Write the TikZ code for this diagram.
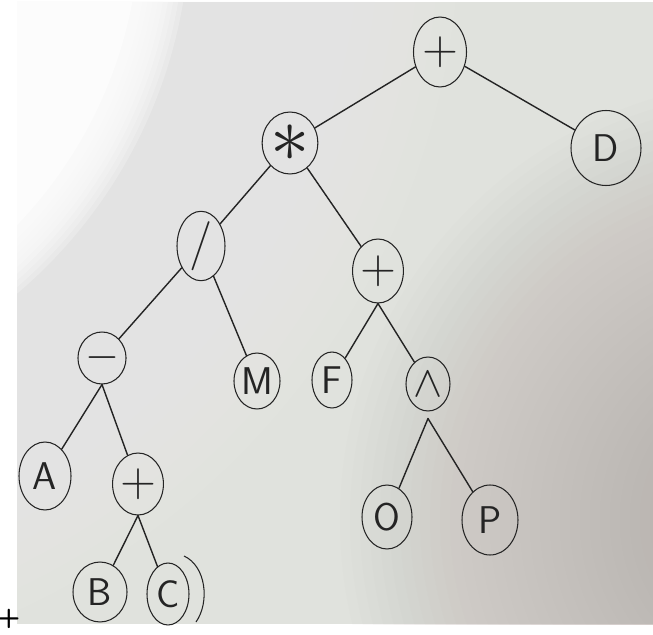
\documentclass[tikz,border=0pt]{standalone}
\usepackage{tikz}
\usepackage{graphicx}
\usetikzlibrary{shapes.geometric}

\definecolor{ink}{RGB}{36,36,36}
\definecolor{paper}{RGB}{224,226,221}
\definecolor{paperglow}{RGB}{252,252,252}
\definecolor{papershade}{RGB}{188,178,174}

\tikzset{
    vertex/.style={draw=ink, ellipse, inner sep=0pt, line width=0.6pt, text=ink, minimum width=0.96cm, minimum height=1.28cm, font=\fontsize{22}{22}\selectfont\sffamily},
    op/.style={vertex, font=\fontsize{28}{28}\selectfont\sffamily},
    branch/.style={draw=ink, line width=0.8pt, line cap=round}
}

\begin{document}
\begin{tikzpicture}[x=0.02cm, y=-0.02cm]

        \useasboundingbox (0,0) rectangle (653,635);

        % -----------------------------------------------------------------
        % FOGLIO
        % -----------------------------------------------------------------
        \begin{scope}
            \clip (17,2) rectangle (653,624);
            \fill[paper] (17,2) rectangle (653,624);
            % ombra sul lato destro
            \foreach \r in {440,430,...,100}
                \fill[papershade, opacity=0.04] (780,520) circle (\r);
            % zona chiara in alto a sinistra
            \foreach \r in {760,740,...,500}
                \fill[paperglow, opacity=0.04] (-300,-80) circle (\r);
            \foreach \r in {490,485,...,445}
                \fill[paperglow, opacity=0.25] (-300,-80) circle (\r);
            \fill[paperglow] (-300,-80) circle (440);
        \end{scope}

        % -----------------------------------------------------------------
        % NODI
        % -----------------------------------------------------------------
        \node[op, minimum width=1.06cm, minimum height=1.4cm] (root) at (440,52) {+};
        \node[op, minimum width=1.06cm, minimum height=1.24cm] (mul) at (290,143) {\scalebox{1.8}{$\ast$}};
        \node[vertex, minimum width=1.4cm, minimum height=1.5cm] (D) at (606,148) {D};
        \node[op, minimum height=1.2cm] (div) at (201,246) {/};
        \node[op] (plusR) at (378,271) {+};
        \node[op, minimum width=0.92cm, minimum height=1.04cm] (minus) at (102,358) {$-$};
        \node[vertex, minimum width=0.92cm, minimum height=1.12cm] (M) at (257,381) {M};
        \node[vertex, minimum width=0.8cm, minimum height=1.12cm] (F) at (332,380) {F};
        \node[op, minimum width=0.88cm, minimum height=1.08cm] (caret) at (428,384) {$\wedge$};
        \node[vertex, minimum width=1.04cm, minimum height=1.36cm] (A) at (45,476) {A};
        \node[op, minimum width=1cm, minimum height=1.24cm] (plusL) at (138,484) {+};
        \node[vertex, minimum width=1cm] (O) at (387,517) {O};
        \node[vertex, minimum width=1.12cm, minimum height=1.4cm] (P) at (490,520) {P};
        \node[vertex, minimum width=1.08cm, minimum height=1.2cm] (B) at (100,592) {B};
        \node[vertex, minimum width=0.84cm, minimum height=1.24cm] (C) at (168,594) {C};

        % secondo tratto attorno a C
        \draw[ink, line width=0.6pt] ([shift={(16,-38)}]C.center) .. controls ([shift={(38,-28)}]C.center) and ([shift={(42,8)}]C.center) .. ([shift={(28,28)}]C.center);

        % segno fuori dal foglio
        \node[font=\fontsize{15}{15}\selectfont\sffamily\bfseries, text=black] (stray) at (9,619) {+};

        % -----------------------------------------------------------------
        % RAMI
        % -----------------------------------------------------------------
        \draw[branch] (root) -- (mul);
        \draw[branch] (root) -- (D);
        \draw[branch] (mul) -- (div);
        \draw[branch] (mul) -- (plusR);
        \draw[branch] (div) -- (minus);
        \draw[branch] (div) -- (M);
        \draw[branch] (plusR.south) -- (F);
        \draw[branch] (plusR.south) -- (caret);
        \draw[branch] (minus.south) -- (A);
        \draw[branch] (minus.south) -- (plusL);
        \draw[branch] (plusL.south) -- (B);
        \draw[branch] (plusL.south) -- (C);
        \draw[branch] ([yshift=-0.14cm]caret.south) -- (O);
        \draw[branch] ([yshift=-0.14cm]caret.south) -- (P);

    \end{tikzpicture}
\end{document}
